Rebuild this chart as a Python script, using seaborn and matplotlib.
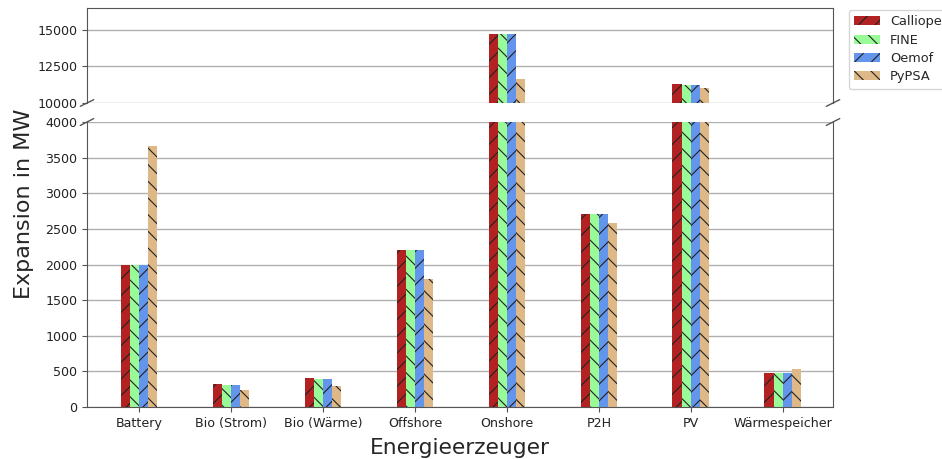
import matplotlib
matplotlib.use("Agg")
import matplotlib.pyplot as plt
import seaborn as sns
import pandas as pd

categories = ["Battery", "Bio (Strom)", "Bio (Wärme)", "Offshore", "Onshore", "P2H", "PV", "Wärmespeicher"]
models = ["Calliope", "FINE", "Oemof", "PyPSA"]
calliope = [2000, 320, 405, 2200, 14720, 2710, 11300, 478]
fine = [2000, 312, 395, 2200, 14700, 2710, 11240, 472]
oemof = [2000, 312, 395, 2200, 14700, 2710, 11240, 472]
pypsa = [3670, 240, 300, 1800, 11620, 2580, 11050, 533]
colors = ["#b22222", "#98fb98", "#6495ed", "#deb887"]
hatches = ["//", "\\\\", "//", "\\\\"]

rows = []
for m, vals in zip(models, [calliope, fine, oemof, pypsa]):
    for c, v in zip(categories, vals):
        rows.append({"Technologie": c, "Modell": m, "Wert": v})
df = pd.DataFrame(rows)

sns.set_style("white")
plt.rcParams["font.family"] = ["DejaVu Sans"]
plt.rcParams["hatch.linewidth"] = 0.8

W, H = 942, 459
fig = plt.figure(figsize=(W / 100, H / 100), dpi=100)
left, right = 87 / W, 833 / W
ax_top = fig.add_axes([left, 1 - 103 / H, right - left, (103 - 8) / H])
ax_bot = fig.add_axes([left, 1 - 407 / H, right - left, (407 - 122) / H])

spine_col = "#555555"
for ax in (ax_top, ax_bot):
    sns.barplot(data=df, x="Technologie", y="Wert", hue="Modell", hue_order=models,
                order=categories, palette=colors, width=0.4, saturation=1,
                legend=False, ax=ax, edgecolor="#222222", linewidth=0, errorbar=None)
    for cont, h in zip(ax.containers, hatches):
        for p in cont:
            p.set_hatch(h)
            p.set_linewidth(0)
            if hasattr(p, "set_hatchcolor"):
                p.set_hatchcolor("#222222")
    ax.set_xlim(-0.565, 7.545)
    ax.set_axisbelow(True)
    ax.yaxis.grid(True, color="#b0b0b0", linewidth=1)
    ax.xaxis.grid(False)
    ax.set_ylabel("")
    for s in ax.spines.values():
        s.set_color(spine_col)
    ax.tick_params(axis="both", labelsize=9.1, colors="#222222", length=3.5, width=0.8,
                   color=spine_col, direction="out", left=True, bottom=True)

ax_top.set_ylim(10000, 16500)
ax_top.set_yticks([10000, 12500, 15000])
ax_top.spines["bottom"].set_visible(False)
ax_top.tick_params(axis="x", bottom=False, labelbottom=False)
ax_top.set_xlabel("")

ax_bot.set_ylim(0, 4000)
ax_bot.set_yticks(range(0, 4001, 500))
ax_bot.spines["top"].set_visible(False)
ax_bot.set_xlabel("Energieerzeuger", fontsize=15.7, labelpad=6)

# break marks
dx = 0.009
kw = dict(color=spine_col, clip_on=False, linewidth=1)
ax_top.plot([-dx, dx], [-0.035, 0.035], transform=ax_top.transAxes, **kw)
ax_top.plot([1 - dx, 1 + dx], [-0.035, 0.035], transform=ax_top.transAxes, **kw)
ax_bot.plot([-dx, dx], [1 - 0.012, 1 + 0.012], transform=ax_bot.transAxes, **kw)
ax_bot.plot([1 - dx, 1 + dx], [1 - 0.012, 1 + 0.012], transform=ax_bot.transAxes, **kw)

fig.text(24 / W, 1 - 204 / H, "Expansion in MW", rotation=90, ha="center", va="center", fontsize=16)

handles = [cont for cont in ax_bot.containers]
ax_top.legend(handles, models, loc="upper left", bbox_to_anchor=(1.0208, 0.979),
              borderaxespad=0, fontsize=9.3, handlelength=2.0, labelspacing=0.42,
              frameon=True)

fig.savefig("out.png", dpi=100)
